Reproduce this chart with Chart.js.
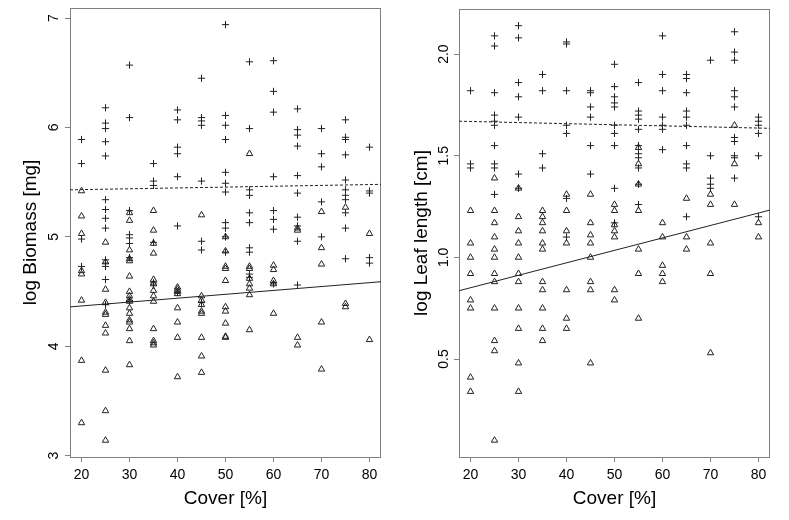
<!DOCTYPE html>
<html>
<head>
<meta charset="utf-8">
<script src="https://cdn.jsdelivr.net/npm/chart.js@4/dist/chart.umd.min.js"></script>
<style>
  html, body { margin: 0; padding: 0; background: #fff; }
  .wrap { display: flex; width: 789px; height: 520px; }
</style>
</head>
<body>
<div class="wrap">
  <canvas id="biomassChart" width="394" height="520"></canvas>
  <canvas id="leafChart" width="395" height="520"></canvas>
</div>
<script>
var coverLevels = [20, 25, 30, 35, 40, 45, 50, 55, 60, 65, 70, 75, 80];
var coverTicks = [20, 30, 40, 50, 60, 70, 80];
var fitCover = [17.6, 82.4];

// log biomass, one list per cover level
var biomassCross = [
  [5.89, 5.67, 4.98, 4.73],
  [6.18, 6.04, 5.99, 5.87, 5.74, 5.34, 5.25, 5.17, 5.08, 4.79, 4.76, 4.73, 4.61, 4.38],
  [6.57, 6.09, 5.24, 5.02, 4.99, 4.94, 4.81, 4.41],
  [5.67, 5.51, 5.47, 4.95, 4.58, 4.56],
  [6.16, 6.07, 5.82, 5.76, 5.55, 5.10, 4.49],
  [6.45, 6.09, 6.06, 6.02, 5.51, 4.96, 4.88, 4.40],
  [6.94, 6.11, 6.02, 5.89, 5.59, 5.49, 5.41, 5.13, 5.08, 5.00, 4.86],
  [6.60, 5.99, 5.43, 5.38, 5.22, 5.13, 4.90, 4.86, 4.66, 4.63],
  [6.61, 6.33, 6.14, 5.55, 5.24, 5.16, 5.07, 4.57],
  [6.17, 5.98, 5.93, 5.83, 5.56, 5.40, 5.18, 5.10, 4.96, 4.56],
  [5.99, 5.76, 5.64, 5.32, 5.00],
  [6.07, 5.91, 5.89, 5.75, 5.52, 5.43, 5.38, 5.34, 5.22, 5.08, 4.80],
  [5.82, 5.42, 5.40, 4.81, 4.76]
];
var biomassTri = [
  [5.42, 5.19, 5.03, 4.69, 4.66, 4.42, 3.87, 3.30],
  [4.95, 4.77, 4.52, 4.40, 4.31, 4.29, 4.19, 4.12, 3.78, 3.41, 3.14],
  [5.22, 5.15, 4.88, 4.80, 4.78, 4.64, 4.50, 4.46, 4.43, 4.41, 4.35, 4.30, 4.24, 4.22, 4.16, 4.05, 3.83],
  [5.24, 5.06, 4.94, 4.85, 4.61, 4.57, 4.51, 4.46, 4.41, 4.16, 4.05, 4.03, 4.01],
  [4.54, 4.52, 4.50, 4.48, 4.35, 4.22, 4.08, 3.72],
  [5.20, 4.46, 4.42, 4.38, 4.32, 4.30, 4.08, 3.91, 3.76],
  [5.00, 4.87, 4.73, 4.71, 4.60, 4.36, 4.32, 4.21, 4.09, 4.08],
  [5.76, 4.73, 4.71, 4.62, 4.57, 4.53, 4.47, 4.15],
  [4.74, 4.70, 4.60, 4.57, 4.30],
  [5.08, 5.06, 4.08, 4.01],
  [5.23, 4.90, 4.75, 4.22, 3.79],
  [5.27, 4.39, 4.36],
  [5.03, 4.06]
];
var biomassCrossFit = [5.43, 5.48];
var biomassTriFit = [4.36, 4.59];
var biomassTicks = [3, 4, 5, 6, 7];

// log leaf length, one list per cover level
var leafCross = [
  [1.82, 1.46, 1.44],
  [2.09, 2.04, 1.81, 1.70, 1.67, 1.65, 1.55, 1.46, 1.44, 1.31],
  [2.14, 2.08, 1.86, 1.79, 1.69, 1.41, 1.34],
  [1.90, 1.82, 1.51, 1.44],
  [2.06, 2.05, 1.82, 1.65, 1.61, 1.29, 1.10],
  [1.82, 1.81, 1.74, 1.69, 1.55, 1.41],
  [1.95, 1.84, 1.79, 1.76, 1.74, 1.65, 1.61, 1.55, 1.34, 1.17],
  [1.86, 1.72, 1.70, 1.68, 1.63, 1.55, 1.51, 1.49, 1.44, 1.36, 1.26],
  [2.09, 1.90, 1.82, 1.69, 1.65, 1.63, 1.53],
  [1.90, 1.88, 1.81, 1.72, 1.69, 1.65, 1.55, 1.46, 1.44, 1.20],
  [1.97, 1.50, 1.39, 1.36, 1.34],
  [2.11, 2.01, 1.97, 1.82, 1.79, 1.74, 1.59, 1.57, 1.50, 1.49, 1.39],
  [1.69, 1.67, 1.65, 1.61, 1.50, 1.20]
];
var leafTri = [
  [1.23, 1.07, 1.00, 0.92, 0.79, 0.75, 0.41, 0.34],
  [1.39, 1.23, 1.17, 1.10, 1.04, 1.00, 0.92, 0.88, 0.75, 0.59, 0.54, 0.10],
  [1.34, 1.20, 1.13, 1.07, 1.00, 0.92, 0.88, 0.75, 0.65, 0.48, 0.34],
  [1.23, 1.20, 1.17, 1.13, 1.07, 1.04, 0.88, 0.84, 0.75, 0.65, 0.59],
  [1.31, 1.23, 1.13, 1.07, 0.84, 0.70, 0.65],
  [1.31, 1.17, 1.11, 1.07, 1.00, 0.88, 0.84, 0.48],
  [1.26, 1.23, 1.16, 1.13, 1.10, 0.84, 0.79],
  [1.54, 1.46, 1.36, 1.23, 1.04, 0.92, 0.70],
  [1.17, 1.10, 0.96, 0.92, 0.88],
  [1.29, 1.10, 1.04],
  [1.31, 1.26, 1.07, 0.92, 0.53],
  [1.65, 1.46, 1.26],
  [1.17, 1.10]
];
var leafCrossFit = [1.67, 1.635];
var leafTriFit = [0.836, 1.233];
var leafTicks = [0.5, 1.0, 1.5, 2.0];

var inkColor = "#222";
var frameColor = "#808080";
var fontFamily = "'Liberation Sans', Arial, sans-serif";

function toPoints(groups) {
  var pts = [];
  groups.forEach(function (vals, i) {
    vals.forEach(function (v) {
      pts.push({ x: coverLevels[i], y: v });
    });
  });
  return pts;
}

function fitPoints(ends) {
  return fitCover.map(function (c, i) {
    return { x: c, y: ends[i] };
  });
}

// R-style box round the plot region
var framePlugin = {
  id: "frame",
  beforeDatasetsDraw: function (chart) {
    var a = chart.chartArea;
    var ctx = chart.ctx;
    ctx.save();
    ctx.strokeStyle = frameColor;
    ctx.lineWidth = 1;
    ctx.strokeRect(a.left + 0.5, a.top + 0.5, a.right - a.left - 1, a.bottom - a.top);
    ctx.restore();
  },
};

function makePanel(canvasId, cfg) {
  var ctx = document.getElementById(canvasId).getContext("2d");
  return new Chart(ctx, {
    type: "scatter",
    data: {
      datasets: [
        {
          data: toPoints(cfg.cross),
          pointStyle: "cross",
          pointRadius: 3.6,
          borderColor: inkColor,
          borderWidth: 1,
        },
        {
          data: toPoints(cfg.tri),
          pointStyle: "triangle",
          pointRadius: 3.7,
          backgroundColor: "rgba(0,0,0,0)",
          borderColor: inkColor,
          borderWidth: 1,
        },
        {
          type: "line",
          data: fitPoints(cfg.crossFit),
          borderColor: inkColor,
          borderWidth: 1,
          borderDash: [3, 2],
          pointRadius: 0,
        },
        {
          type: "line",
          data: fitPoints(cfg.triFit),
          borderColor: inkColor,
          borderWidth: 1,
          pointRadius: 0,
        },
      ],
    },
    options: {
      responsive: false,
      animation: false,
      layout: { padding: cfg.padding },
      plugins: { legend: { display: false }, tooltip: { enabled: false } },
      scales: {
        x: {
          type: "linear",
          min: fitCover[0],
          max: fitCover[1],
          afterBuildTicks: function (s) {
            s.ticks = coverTicks.map(function (v) { return { value: v }; });
          },
          afterFit: function (s) {
            s.height = 63;
            s.paddingLeft = 0;
            s.paddingRight = 0;
          },
          grid: { drawOnChartArea: false, tickLength: 5, color: frameColor },
          border: { display: false },
          ticks: {
            color: "#000",
            padding: 5,
            maxRotation: 0,
            font: { family: fontFamily, size: 14 },
          },
          title: {
            display: true,
            text: "Cover [%]",
            color: "#000",
            padding: { bottom: 10 },
            font: { family: fontFamily, size: 19 },
          },
        },
        y: {
          min: cfg.yMin,
          max: cfg.yMax,
          afterBuildTicks: function (s) {
            s.ticks = cfg.yTicks.map(function (v) { return { value: v }; });
          },
          afterFit: function (s) {
            s.width = cfg.yWidth;
            s.paddingTop = 0;
            s.paddingBottom = 0;
          },
          grid: { drawOnChartArea: false, tickLength: 5, color: frameColor },
          border: { display: false },
          ticks: {
            color: "#000",
            minRotation: 90,
            maxRotation: 90,
            crossAlign: "center",
            padding: cfg.tickPad,
            font: { family: fontFamily, size: 14 },
            callback: cfg.tickFormat,
          },
          title: {
            display: true,
            text: cfg.yTitle,
            color: "#000",
            padding: { top: cfg.titlePad },
            font: { family: fontFamily, size: 19 },
          },
        },
      },
    },
    plugins: [framePlugin],
  });
}

var biomassChart = makePanel("biomassChart", {
  cross: biomassCross,
  tri: biomassTri,
  crossFit: biomassCrossFit,
  triFit: biomassTriFit,
  yTicks: biomassTicks,
  yMin: 2.988,
  yMax: 7.092,
  yWidth: 70,
  tickPad: 7,
  titlePad: 19,
  yTitle: "log Biomass [mg]",
  padding: { left: 0, right: 13, top: 8, bottom: 0 },
  tickFormat: function (v) { return String(v); },
});

var leafChart = makePanel("leafChart", {
  cross: leafCross,
  tri: leafTri,
  crossFit: leafCrossFit,
  triFit: leafTriFit,
  yTicks: leafTicks,
  yMin: 0.018,
  yMax: 2.222,
  yWidth: 65,
  tickPad: 0.5,
  titlePad: 16,
  yTitle: "log Leaf length [cm]",
  padding: { left: 0, right: 19, top: 9, bottom: 0 },
  tickFormat: function (v) { return v.toFixed(1); },
});
</script>
</body>
</html>
